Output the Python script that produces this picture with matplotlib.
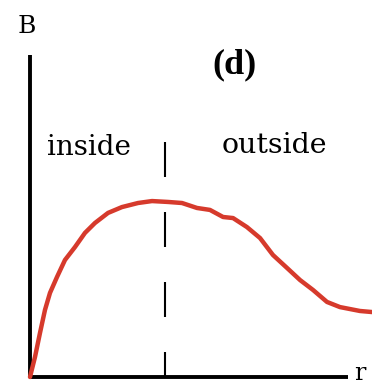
import matplotlib
matplotlib.use("Agg")
import matplotlib.pyplot as plt

# Field profile B(r): r in units of the boundary radius, B in units of the peak
r_vals = [0.000, 0.037, 0.074, 0.111, 0.148, 0.200, 0.259, 0.333, 0.407, 0.481,
          0.578, 0.681, 0.800, 0.904, 1.022, 1.126, 1.237, 1.333, 1.430, 1.504,
          1.607, 1.704, 1.800, 1.904, 2.000, 2.096, 2.200, 2.296, 2.444, 2.533]
b_vals = [0.000, 0.113, 0.249, 0.379, 0.475, 0.565, 0.661, 0.734, 0.814, 0.870,
          0.927, 0.960, 0.983, 0.994, 0.989, 0.983, 0.955, 0.944, 0.904, 0.898,
          0.847, 0.785, 0.689, 0.616, 0.548, 0.492, 0.424, 0.395, 0.373, 0.367]

boundary_r = 1.0
region_labels = ["inside", "outside"]
panel_label = "(d)"

W, H = 372, 385
fig = plt.figure(figsize=(W / 100, H / 100), dpi=100)
# origin of the r-B axes sits at pixel (30, 377)
ax = fig.add_axes([30 / W, (H - 377) / H, (W - 30) / W, 377 / H])
ax.set_xlim(0, (W - 30) / 135)
ax.set_ylim(0, 377 / 177)
ax.axis("off")

serif = "DejaVu Serif"

# hand-drawn style axes
ax.plot([0, 0], [0, (377 - 55) / 177], color="black", lw=2.8,
        solid_capstyle="butt", clip_on=False)
ax.plot([0, (348 - 30) / 135], [0, 0], color="black", lw=2.8,
        solid_capstyle="butt", clip_on=False)

# boundary between the two regions
ax.plot([boundary_r, boundary_r], [(377 - 142) / 177, 0], color="black", lw=1.5,
        linestyle=(0, (16.8, 16.8)), clip_on=False)

ax.plot(r_vals, b_vals, color="#d63a2c", lw=3.2, solid_capstyle="round",
        solid_joinstyle="round", clip_on=False)

fig.text(27 / W, 1 - 33 / H, "B", family=serif, fontsize=18,
         ha="center", va="baseline")
fig.text(360 / W, 1 - 380 / H, "r", family=serif, fontsize=17,
         ha="center", va="baseline")
fig.text(47 / W, 1 - 155 / H, region_labels[0], family=serif, fontsize=20,
         ha="left", va="baseline")
fig.text(222 / W, 1 - 153 / H, region_labels[1], family=serif, fontsize=20.5,
         ha="left", va="baseline")
fig.text(235 / W, 1 - 65 / H, panel_label, family="Liberation Serif",
         fontweight="bold", fontsize=26, ha="center", va="center")

fig.savefig("out.png", dpi=100)
